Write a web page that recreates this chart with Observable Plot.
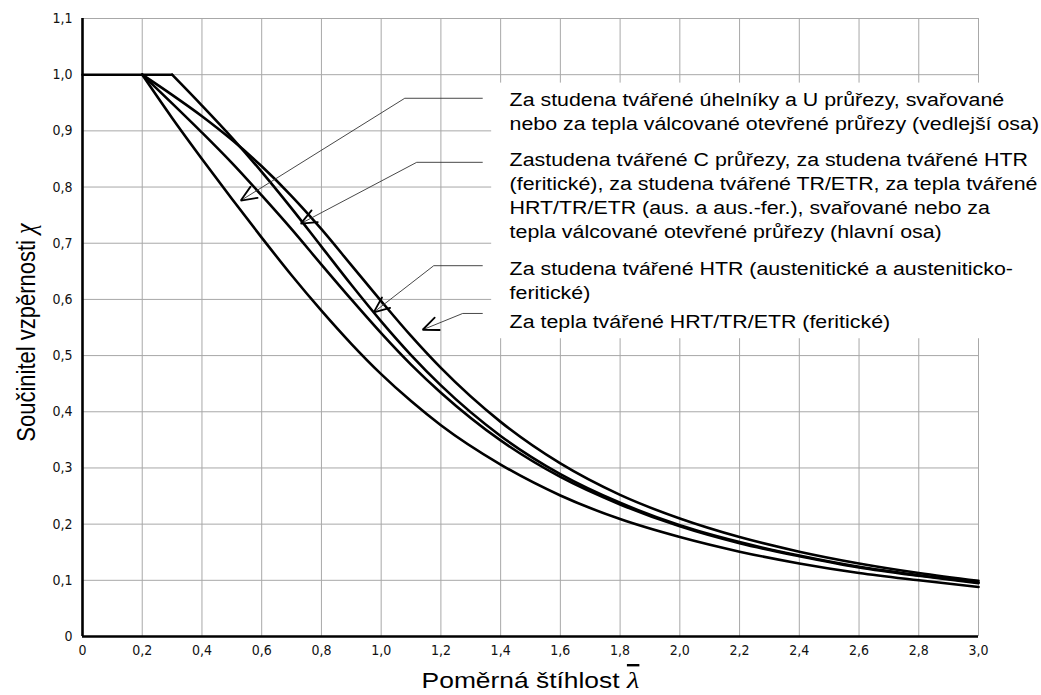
<!DOCTYPE html>
<html><head><meta charset="utf-8">
<script src="https://cdn.jsdelivr.net/npm/d3@7"></script>
<script src="https://cdn.jsdelivr.net/npm/@observablehq/plot@0.6"></script>
<style>
html,body{margin:0;padding:0;background:#fff;}
#chart svg{display:block;}
</style></head><body><div id="chart"></div>
<script>
// ---- data ----
const lambda = [0.2,0.3,0.4,0.5,0.6,0.7,0.8,0.9,1.0,1.1,1.2,1.4,1.6,1.8,2.0,2.2,2.4,2.6,2.8,3.0];
// curve A: cold formed angles/U, welded open (minor axis)
const chiA = [1.000,0.923,0.850,0.779,0.710,0.643,0.580,0.521,0.467,0.419,0.376,0.306,0.251,0.209,0.177,0.151,0.130,0.113,0.100,0.088];
// curve B: C sections, ... (major axis)
const chiB = [1.000,0.949,0.897,0.843,0.785,0.725,0.662,0.600,0.540,0.484,0.434,0.349,0.284,0.235,0.196,0.166,0.143,0.123,0.108,0.095];
// curve C: cold formed HTR austenitic (plateau to 0.3)
const lambdaC = [0.3,0.4,0.5,0.6,0.7,0.8,0.9,1.0,1.1,1.2,1.4,1.6,1.8,2.0,2.2,2.4,2.6,2.8,3.0];
const chiC = [1.000,0.945,0.888,0.827,0.762,0.694,0.626,0.561,0.501,0.447,0.357,0.289,0.238,0.198,0.168,0.144,0.124,0.109,0.096];
// curve D: hot finished HRT/TR/ETR ferritic
const chiD = [1.000,0.964,0.926,0.884,0.837,0.784,0.725,0.661,0.597,0.535,0.478,0.382,0.308,0.252,0.210,0.177,0.151,0.130,0.113,0.099];
const plateauLambda = [0, 0.3];
const plateauChi = [1, 1];

const xTicks = [0,0.2,0.4,0.6,0.8,1.0,1.2,1.4,1.6,1.8,2.0,2.2,2.4,2.6,2.8,3.0];
const xTickLabels = ["0","0,2","0,4","0,6","0,8","1,0","1,2","1,4","1,6","1,8","2,0","2,2","2,4","2,6","2,8","3,0"];
const yTicks = [0,0.1,0.2,0.3,0.4,0.5,0.6,0.7,0.8,0.9,1.0,1.1];
const yTickLabels = ["0","0,1","0,2","0,3","0,4","0,5","0,6","0,7","0,8","0,9","1,0","1,1"];

const xLabel = "Poměrná štíhlost ";
const xSymbol = "λ";
const yLabel = "Součinitel vzpěrnosti ";
const ySymbol = "χ";

const legendTexts = [
  "Za studena tvářené úhelníky a U průřezy, svařované\nnebo za tepla válcované otevřené průřezy (vedlejší osa)",
  "Zastudena tvářené C průřezy, za studena tvářené HTR\n(feritické), za studena tvářené TR/ETR, za tepla tvářené\nHRT/TR/ETR (aus. a aus.-fer.), svařované nebo za\ntepla válcované otevřené průřezy (hlavní osa)",
  "Za studena tvářené HTR (austenitické a austeniticko-\nferitické)",
  "Za tepla tvářené HRT/TR/ETR (feritické)"
];
// annotation anchors in data units (lambda, chi)
const legendX = 1.43;
const legendTopY = [0.975, 0.868, 0.673, 0.580];
const leaderEndX = 1.340;
const leaderKneeX = [1.079, 1.119, 1.176, 1.273];
const leaderKneeY = [0.958, 0.844, 0.660, 0.575];
const arrowTipX = [0.530, 0.731, 0.975, 1.139];
const arrowTipY = [0.776, 0.735, 0.577, 0.546];
const boxX = [1.37, 3.25];
const boxY = [0.53, 0.985];

// ---- layout ----
const base = {
  width: 1041, height: 695,
  marginLeft: 82, marginRight: 63, marginTop: 18, marginBottom: 59,
  x: {domain: [0, 3], axis: null},
  y: {domain: [0, 1.1], axis: null}
};
const headLen = 17, headHalf = 23 * Math.PI / 180, textStretch = 1.2;

// ---- build tables ----
const rows = [];
lambda.forEach((l,i)=>{ rows.push({curve:"A", lam:l, chi:chiA[i]}); rows.push({curve:"B", lam:l, chi:chiB[i]}); rows.push({curve:"D", lam:l, chi:chiD[i]}); });
lambdaC.forEach((l,i)=> rows.push({curve:"C", lam:l, chi:chiC[i]}));
const plateau = plateauLambda.map((l,i)=>({lam:l, chi:plateauChi[i]}));
const leaders = leaderKneeX.map((kx,i)=>({ex: leaderEndX, kx, ky: leaderKneeY[i], tx: arrowTipX[i], ty: arrowTipY[i]}));

// probe the scales to build open arrowheads of fixed pixel size
const probe = Plot.plot({...base, marks: [Plot.ruleX(xTicks), Plot.ruleY(yTicks)]});
const SX = probe.scale("x"), SY = probe.scale("y");
const heads = [];
leaders.forEach((d,i)=>{
  const tx = SX.apply(d.tx), ty = SY.apply(d.ty), kx = SX.apply(d.kx), ky = SY.apply(d.ky);
  const a = Math.atan2(ky - ty, kx - tx);
  heads.push({i, x: SX.invert(tx + headLen*Math.cos(a+headHalf)), y: SY.invert(ty + headLen*Math.sin(a+headHalf))});
  heads.push({i, x: d.tx, y: d.ty});
  heads.push({i, x: SX.invert(tx + headLen*Math.cos(a-headHalf)), y: SY.invert(ty + headLen*Math.sin(a-headHalf))});
});

const legend = legendTexts.map((t,i)=>({x: legendX, y: legendTopY[i], t}));
const xt = xTicks.map((v,i)=>({v, s:xTickLabels[i]}));
const yt = yTicks.map((v,i)=>({v, s:yTickLabels[i]}));

const tickFont = "'Liberation Sans Narrow','DejaVu Sans Condensed',sans-serif";
const textFont = "'Liberation Sans', Arial, sans-serif";
const mathFont = "'Liberation Serif','DejaVu Serif',serif";

const chart = Plot.plot({
  ...base,
  style: {background: "white"},
  marks: [
    Plot.ruleX(xTicks, {stroke: "#a8a8a8", strokeWidth: 1}),
    Plot.ruleY(yTicks, {stroke: "#a8a8a8", strokeWidth: 1}),
    Plot.rect([0], {x1: boxX[0], x2: boxX[1], y1: boxY[0], y2: boxY[1], fill: "white"}),
    Plot.line(plateau, {x: "lam", y: "chi", stroke: "black", strokeWidth: 2.6}),
    Plot.line(rows, {x: "lam", y: "chi", z: "curve", curve: "monotone-x", stroke: "black", strokeWidth: 2.6}),
    Plot.ruleX([0], {stroke: "black", strokeWidth: 2.6}),
    Plot.ruleY([0], {stroke: "black", strokeWidth: 2.6}),
    Plot.link(leaders, {x1: "ex", y1: "ky", x2: "kx", y2: "ky", stroke: "#333", strokeWidth: 0.9}),
    Plot.link(leaders, {x1: "kx", y1: "ky", x2: "tx", y2: "ty", stroke: "#333", strokeWidth: 0.9}),
    Plot.line(heads, {x: "x", y: "y", z: "i", stroke: "black", strokeWidth: 1.8, strokeLinejoin: "miter"}),
    Plot.text(legend, {x: "x", y: "y", text: "t", textAnchor: "start", lineAnchor: "top", fontSize: 17.8, lineHeight: 1.35, fill: "black", fontFamily: textFont}),
    Plot.text(xt, {x: "v", text: "s", frameAnchor: "bottom", dy: 9, lineAnchor: "top", fontSize: 14, fill: "#111", fontFamily: tickFont}),
    Plot.text(yt, {y: "v", text: "s", frameAnchor: "left", dx: -10, textAnchor: "end", fontSize: 14, fill: "#111", fontFamily: tickFont}),
    Plot.text([xLabel], {frameAnchor: "bottom", dy: 44, lineAnchor: "middle", textAnchor: "middle", text: d => d, fontSize: 22, fill: "black", fontFamily: textFont}),
    Plot.text([yLabel], {frameAnchor: "left", dx: -56, dy: 5, rotate: -90, lineAnchor: "middle", textAnchor: "middle", text: d => d, fontSize: 22, fill: "black", fontFamily: textFont})
  ]
});
document.getElementById("chart").appendChild(chart);

// horizontal stretch of the texts, as in the reference
function stretch(el, k) {
  const tr = el.getAttribute("transform") || "";
  const m = /translate\(\s*([-\d.e]+)[ ,]+([-\d.e]+)\s*\)/.exec(tr);
  let ax = m ? +m[1] : 0;
  if (el.getAttribute("x")) ax += parseFloat(el.getAttribute("x"));
  const g = document.createElementNS("http://www.w3.org/2000/svg", "g");
  g.setAttribute("transform", `translate(${ax},0) scale(${k},1) translate(${-ax},0)`);
  el.parentNode.insertBefore(g, el);
  g.appendChild(el);
}
const legendFlat = legendTexts.map(s => s.replace(/\n/g, ""));
const svg = d3.select(chart);
svg.selectAll("text").each(function(){
  const t = d3.select(this);
  const c = this.textContent;
  if (c === xLabel) {
    t.text(xLabel);
    t.append("tspan").attr("font-family", mathFont).attr("font-style","italic")
     .attr("font-size", 24).style("text-decoration","overline").text(xSymbol);
    stretch(this, textStretch);
  } else if (c === yLabel) {
    t.text(yLabel);
    t.append("tspan").attr("font-family", mathFont).attr("font-style","italic")
     .attr("font-size", 24).text(ySymbol);
    stretch(this, textStretch);
  } else if (legendFlat.includes(c)) {
    stretch(this, textStretch);
  }
});
</script>
</body></html>
